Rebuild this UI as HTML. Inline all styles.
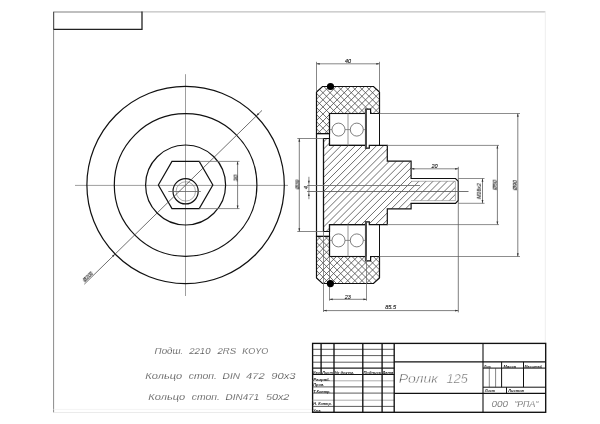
<!DOCTYPE html>
<html><head><meta charset="utf-8"><style>
html,body{margin:0;padding:0;background:#fff;}
svg{display:block;}
text{will-change:transform;}
text{font-family:"Liberation Sans",sans-serif;font-style:italic;}
</style></head><body>
<svg width="600" height="424" viewBox="0 0 600 424">
<defs>
<clipPath id="ctu"><path d="M316.50,133.60 L316.50,92.00 L322.50,86.50 L373.50,86.50 L379.50,92.00 L379.50,113.50 L370.60,113.50 L370.60,109.20 L365.50,109.20 L365.50,113.50 L329.50,113.50 L329.50,133.60 Z"/></clipPath>
<clipPath id="ctd"><path d="M316.50,236.40 L316.50,278.00 L322.50,283.50 L373.50,283.50 L379.50,278.00 L379.50,256.50 L370.60,256.50 L370.60,260.80 L365.50,260.80 L365.50,256.50 L329.50,256.50 L329.50,236.40 Z"/></clipPath>
<clipPath id="cax"><path d="M323.50,138.50 L329.50,138.50 L329.50,145.40 L365.50,145.40 L365.50,148.10 L369.30,148.10 L369.30,145.40 L387.30,145.40 L387.30,161.20 L411.10,161.20 L411.10,181.30 L455.30,181.30 L455.30,200.60 L411.10,200.60 L411.10,208.80 L387.30,208.80 L387.30,224.60 L369.30,224.60 L369.30,221.90 L365.50,221.90 L365.50,224.60 L329.50,224.60 L329.50,231.50 L323.50,231.50 Z"/></clipPath>
</defs>
<rect width="600" height="424" fill="#fff"/>
<line x1="142.00" y1="11.90" x2="545.40" y2="11.90" stroke="#b0b0b0" stroke-width="1.0" />
<line x1="53.60" y1="12.00" x2="142.00" y2="12.00" stroke="#808080" stroke-width="1.1" />
<line x1="53.60" y1="11.60" x2="53.60" y2="412.50" stroke="#8a8a8a" stroke-width="1.0" />
<line x1="545.30" y1="11.60" x2="545.30" y2="412.50" stroke="#eeeeee" stroke-width="1.0" />
<line x1="53.60" y1="412.50" x2="545.60" y2="412.50" stroke="#ebebeb" stroke-width="1.0" />
<line x1="53.60" y1="409.40" x2="312.60" y2="409.40" stroke="#f4f4f4" stroke-width="1.0" />
<line x1="53.60" y1="12.00" x2="53.60" y2="29.40" stroke="#555" stroke-width="1.1" />
<line x1="53.60" y1="29.40" x2="142.00" y2="29.40" stroke="#222" stroke-width="1.2" />
<line x1="142.00" y1="11.60" x2="142.00" y2="29.90" stroke="#222" stroke-width="1.3" />
<line x1="75.00" y1="185.40" x2="288.00" y2="185.40" stroke="#8c8c8c" stroke-width="0.85" />
<line x1="185.50" y1="74.20" x2="185.50" y2="296.00" stroke="#8c8c8c" stroke-width="0.85" />
<circle cx="185.6" cy="185.0" r="98.7" stroke="#111" stroke-width="1.2" fill="none"/>
<circle cx="185.6" cy="185.0" r="71.3" stroke="#111" stroke-width="1.2" fill="none"/>
<circle cx="185.6" cy="185.0" r="40.0" stroke="#111" stroke-width="1.2" fill="none"/>
<path d="M158.35,185.00 L171.97,161.40 L199.22,161.40 L212.85,185.00 L199.22,208.60 L171.97,208.60 Z" stroke="#111" stroke-width="1.2" fill="none" stroke-linejoin="miter"/>
<circle cx="185.6" cy="191.3" r="12.6" stroke="#111" stroke-width="1.2" fill="none"/>
<circle cx="185.8" cy="191.4" r="9.7" stroke="#777" stroke-width="0.6" fill="none"/>
<line x1="168.30" y1="191.50" x2="200.80" y2="191.50" stroke="#606060" stroke-width="0.8" />
<line x1="84.30" y1="284.20" x2="262.00" y2="110.40" stroke="#4a4a4a" stroke-width="0.8" />
<path d="M256.16,115.99 L257.93,112.93 L259.26,114.29 Z" fill="#333"/>
<path d="M115.04,254.01 L113.27,257.07 L111.94,255.71 Z" fill="#333"/>
<text x="89.40" y="278.20" font-size="4.8" text-anchor="middle" fill="#0a0a0a" transform="rotate(-44.364311888188375 89.40 278.20)" stroke="#222" stroke-width="0.12">Ø200</text>
<line x1="199.22" y1="161.40" x2="239.50" y2="161.40" stroke="#707070" stroke-width="0.8" />
<line x1="199.22" y1="208.60" x2="239.50" y2="208.60" stroke="#707070" stroke-width="0.8" />
<line x1="237.60" y1="161.40" x2="237.60" y2="208.60" stroke="#606060" stroke-width="0.8" />
<path d="M237.60,161.40 L238.50,164.60 L236.70,164.60 Z" fill="#333"/>
<path d="M237.60,208.60 L236.70,205.40 L238.50,205.40 Z" fill="#333"/>
<text x="237.60" y="178.00" font-size="6.0" text-anchor="middle" fill="#0a0a0a" transform="rotate(-90 237.60 178.00)" stroke="#222" stroke-width="0.12">30</text>
<g clip-path="url(#ctu)" stroke="#4a4a4a" stroke-width="0.8">
<line x1="267.89" y1="133.60" x2="314.99" y2="86.50"/>
<line x1="274.98" y1="133.60" x2="322.08" y2="86.50"/>
<line x1="282.07" y1="133.60" x2="329.17" y2="86.50"/>
<line x1="289.16" y1="133.60" x2="336.26" y2="86.50"/>
<line x1="296.25" y1="133.60" x2="343.35" y2="86.50"/>
<line x1="303.34" y1="133.60" x2="350.44" y2="86.50"/>
<line x1="310.43" y1="133.60" x2="357.53" y2="86.50"/>
<line x1="317.52" y1="133.60" x2="364.62" y2="86.50"/>
<line x1="324.61" y1="133.60" x2="371.71" y2="86.50"/>
<line x1="331.70" y1="133.60" x2="378.80" y2="86.50"/>
<line x1="338.79" y1="133.60" x2="385.89" y2="86.50"/>
<line x1="345.88" y1="133.60" x2="392.98" y2="86.50"/>
<line x1="352.97" y1="133.60" x2="400.07" y2="86.50"/>
<line x1="360.06" y1="133.60" x2="407.16" y2="86.50"/>
<line x1="367.15" y1="133.60" x2="414.25" y2="86.50"/>
<line x1="374.24" y1="133.60" x2="421.34" y2="86.50"/>
</g>
<g clip-path="url(#ctu)" stroke="#4a4a4a" stroke-width="0.8">
<line x1="267.10" y1="86.50" x2="314.20" y2="133.60"/>
<line x1="274.19" y1="86.50" x2="321.29" y2="133.60"/>
<line x1="281.28" y1="86.50" x2="328.38" y2="133.60"/>
<line x1="288.37" y1="86.50" x2="335.47" y2="133.60"/>
<line x1="295.46" y1="86.50" x2="342.56" y2="133.60"/>
<line x1="302.55" y1="86.50" x2="349.65" y2="133.60"/>
<line x1="309.64" y1="86.50" x2="356.74" y2="133.60"/>
<line x1="316.73" y1="86.50" x2="363.83" y2="133.60"/>
<line x1="323.82" y1="86.50" x2="370.92" y2="133.60"/>
<line x1="330.91" y1="86.50" x2="378.01" y2="133.60"/>
<line x1="338.00" y1="86.50" x2="385.10" y2="133.60"/>
<line x1="345.09" y1="86.50" x2="392.19" y2="133.60"/>
<line x1="352.18" y1="86.50" x2="399.28" y2="133.60"/>
<line x1="359.27" y1="86.50" x2="406.37" y2="133.60"/>
<line x1="366.36" y1="86.50" x2="413.46" y2="133.60"/>
<line x1="373.45" y1="86.50" x2="420.55" y2="133.60"/>
</g>
<g clip-path="url(#ctd)" stroke="#4a4a4a" stroke-width="0.8">
<line x1="266.88" y1="283.50" x2="313.98" y2="236.40"/>
<line x1="273.97" y1="283.50" x2="321.07" y2="236.40"/>
<line x1="281.06" y1="283.50" x2="328.16" y2="236.40"/>
<line x1="288.15" y1="283.50" x2="335.25" y2="236.40"/>
<line x1="295.24" y1="283.50" x2="342.34" y2="236.40"/>
<line x1="302.33" y1="283.50" x2="349.43" y2="236.40"/>
<line x1="309.42" y1="283.50" x2="356.52" y2="236.40"/>
<line x1="316.51" y1="283.50" x2="363.61" y2="236.40"/>
<line x1="323.60" y1="283.50" x2="370.70" y2="236.40"/>
<line x1="330.69" y1="283.50" x2="377.79" y2="236.40"/>
<line x1="337.78" y1="283.50" x2="384.88" y2="236.40"/>
<line x1="344.87" y1="283.50" x2="391.97" y2="236.40"/>
<line x1="351.96" y1="283.50" x2="399.06" y2="236.40"/>
<line x1="359.05" y1="283.50" x2="406.15" y2="236.40"/>
<line x1="366.14" y1="283.50" x2="413.24" y2="236.40"/>
<line x1="373.23" y1="283.50" x2="420.33" y2="236.40"/>
</g>
<g clip-path="url(#ctd)" stroke="#4a4a4a" stroke-width="0.8">
<line x1="268.11" y1="236.40" x2="315.21" y2="283.50"/>
<line x1="275.20" y1="236.40" x2="322.30" y2="283.50"/>
<line x1="282.29" y1="236.40" x2="329.39" y2="283.50"/>
<line x1="289.38" y1="236.40" x2="336.48" y2="283.50"/>
<line x1="296.47" y1="236.40" x2="343.57" y2="283.50"/>
<line x1="303.56" y1="236.40" x2="350.66" y2="283.50"/>
<line x1="310.65" y1="236.40" x2="357.75" y2="283.50"/>
<line x1="317.74" y1="236.40" x2="364.84" y2="283.50"/>
<line x1="324.83" y1="236.40" x2="371.93" y2="283.50"/>
<line x1="331.92" y1="236.40" x2="379.02" y2="283.50"/>
<line x1="339.01" y1="236.40" x2="386.11" y2="283.50"/>
<line x1="346.10" y1="236.40" x2="393.20" y2="283.50"/>
<line x1="353.19" y1="236.40" x2="400.29" y2="283.50"/>
<line x1="360.28" y1="236.40" x2="407.38" y2="283.50"/>
<line x1="367.37" y1="236.40" x2="414.47" y2="283.50"/>
<line x1="374.46" y1="236.40" x2="421.56" y2="283.50"/>
</g>
<path d="M316.50,133.60 L316.50,92.00 L322.50,86.50 L373.50,86.50 L379.50,92.00 L379.50,113.50 L370.60,113.50 L370.60,109.20 L365.50,109.20 L365.50,113.50 L329.50,113.50 L329.50,133.60 Z" stroke="#111" stroke-width="1.2" fill="none" stroke-linejoin="miter"/>
<path d="M316.50,236.40 L316.50,278.00 L322.50,283.50 L373.50,283.50 L379.50,278.00 L379.50,256.50 L370.60,256.50 L370.60,260.80 L365.50,260.80 L365.50,256.50 L329.50,256.50 L329.50,236.40 Z" stroke="#111" stroke-width="1.2" fill="none" stroke-linejoin="miter"/>
<g clip-path="url(#cax)" stroke="#4a4a4a" stroke-width="0.8">
<line x1="226.86" y1="231.50" x2="319.86" y2="138.50"/>
<line x1="233.95" y1="231.50" x2="326.95" y2="138.50"/>
<line x1="241.04" y1="231.50" x2="334.04" y2="138.50"/>
<line x1="248.13" y1="231.50" x2="341.13" y2="138.50"/>
<line x1="255.22" y1="231.50" x2="348.22" y2="138.50"/>
<line x1="262.31" y1="231.50" x2="355.31" y2="138.50"/>
<line x1="269.40" y1="231.50" x2="362.40" y2="138.50"/>
<line x1="276.49" y1="231.50" x2="369.49" y2="138.50"/>
<line x1="283.58" y1="231.50" x2="376.58" y2="138.50"/>
<line x1="290.67" y1="231.50" x2="383.67" y2="138.50"/>
<line x1="297.76" y1="231.50" x2="390.76" y2="138.50"/>
<line x1="304.85" y1="231.50" x2="397.85" y2="138.50"/>
<line x1="311.94" y1="231.50" x2="404.94" y2="138.50"/>
<line x1="319.03" y1="231.50" x2="412.03" y2="138.50"/>
<line x1="326.12" y1="231.50" x2="419.12" y2="138.50"/>
<line x1="333.21" y1="231.50" x2="426.21" y2="138.50"/>
<line x1="340.30" y1="231.50" x2="433.30" y2="138.50"/>
<line x1="347.39" y1="231.50" x2="440.39" y2="138.50"/>
<line x1="354.48" y1="231.50" x2="447.48" y2="138.50"/>
<line x1="361.57" y1="231.50" x2="454.57" y2="138.50"/>
<line x1="368.66" y1="231.50" x2="461.66" y2="138.50"/>
<line x1="375.75" y1="231.50" x2="468.75" y2="138.50"/>
<line x1="382.84" y1="231.50" x2="475.84" y2="138.50"/>
<line x1="389.93" y1="231.50" x2="482.93" y2="138.50"/>
<line x1="397.02" y1="231.50" x2="490.02" y2="138.50"/>
<line x1="404.11" y1="231.50" x2="497.11" y2="138.50"/>
<line x1="411.20" y1="231.50" x2="504.20" y2="138.50"/>
<line x1="418.29" y1="231.50" x2="511.29" y2="138.50"/>
<line x1="425.38" y1="231.50" x2="518.38" y2="138.50"/>
<line x1="432.47" y1="231.50" x2="525.47" y2="138.50"/>
<line x1="439.56" y1="231.50" x2="532.56" y2="138.50"/>
<line x1="446.65" y1="231.50" x2="539.65" y2="138.50"/>
<line x1="453.74" y1="231.50" x2="546.74" y2="138.50"/>
</g>
<path d="M323.50,138.50 L329.50,138.50 L329.50,145.40 L365.50,145.40 L365.50,148.10 L369.30,148.10 L369.30,145.40 L387.30,145.40 L387.30,161.20 L411.10,161.20 L411.10,178.50 L455.50,178.50 L458.30,181.30 L458.30,200.50 L455.50,203.30 L411.10,203.30 L411.10,208.80 L387.30,208.80 L387.30,224.60 L369.30,224.60 L369.30,221.90 L365.50,221.90 L365.50,224.60 L329.50,224.60 L329.50,231.50 L323.50,231.50 Z" stroke="#111" stroke-width="1.2" fill="none" stroke-linejoin="miter"/>
<line x1="411.10" y1="181.30" x2="455.40" y2="181.30" stroke="#777" stroke-width="0.55" />
<line x1="411.10" y1="200.60" x2="455.40" y2="200.60" stroke="#777" stroke-width="0.55" />
<line x1="455.40" y1="181.30" x2="455.40" y2="200.60" stroke="#777" stroke-width="0.55" />
<line x1="316.50" y1="133.60" x2="316.50" y2="236.40" stroke="#111" stroke-width="1.2" />
<line x1="323.50" y1="138.50" x2="323.50" y2="231.50" stroke="#111" stroke-width="1.1" />
<line x1="316.50" y1="133.60" x2="329.50" y2="133.60" stroke="#111" stroke-width="1.0" />
<line x1="316.50" y1="236.40" x2="329.50" y2="236.40" stroke="#111" stroke-width="1.0" />
<line x1="329.50" y1="133.60" x2="329.50" y2="138.50" stroke="#111" stroke-width="1.0" />
<line x1="329.50" y1="236.40" x2="329.50" y2="231.50" stroke="#111" stroke-width="1.0" />
<rect x="329.5" y="113.5" width="36.00" height="31.90" fill="none" stroke="#111" stroke-width="1.1"/>
<line x1="348.00" y1="113.50" x2="348.00" y2="145.40" stroke="#8a8a8a" stroke-width="0.9" />
<circle cx="338.5" cy="129.6" r="6.5" stroke="#606060" stroke-width="0.8" fill="none"/>
<circle cx="356.8" cy="129.6" r="6.5" stroke="#606060" stroke-width="0.8" fill="none"/>
<line x1="329.50" y1="129.60" x2="332.00" y2="129.60" stroke="#666" stroke-width="0.7" />
<line x1="345.00" y1="129.60" x2="350.30" y2="129.60" stroke="#666" stroke-width="0.7" />
<line x1="363.30" y1="129.60" x2="365.50" y2="129.60" stroke="#666" stroke-width="0.7" />
<rect x="329.5" y="224.6" width="36.00" height="31.90" fill="none" stroke="#111" stroke-width="1.1"/>
<line x1="348.00" y1="224.60" x2="348.00" y2="256.50" stroke="#8a8a8a" stroke-width="0.9" />
<circle cx="338.5" cy="240.4" r="6.5" stroke="#606060" stroke-width="0.8" fill="none"/>
<circle cx="356.8" cy="240.4" r="6.5" stroke="#606060" stroke-width="0.8" fill="none"/>
<line x1="329.50" y1="240.40" x2="332.00" y2="240.40" stroke="#666" stroke-width="0.7" />
<line x1="345.00" y1="240.40" x2="350.30" y2="240.40" stroke="#666" stroke-width="0.7" />
<line x1="363.30" y1="240.40" x2="365.50" y2="240.40" stroke="#666" stroke-width="0.7" />
<line x1="366.00" y1="109.20" x2="366.00" y2="148.10" stroke="#4a4a4a" stroke-width="2.0" />
<line x1="366.00" y1="260.80" x2="366.00" y2="221.90" stroke="#4a4a4a" stroke-width="2.0" />
<line x1="379.50" y1="113.50" x2="379.50" y2="145.40" stroke="#111" stroke-width="1.0" />
<line x1="379.50" y1="256.50" x2="379.50" y2="224.60" stroke="#111" stroke-width="1.0" />
<line x1="307.20" y1="185.50" x2="420.00" y2="185.50" stroke="#6a6a6a" stroke-width="0.85" />
<line x1="307.20" y1="191.50" x2="468.50" y2="191.50" stroke="#5a5a5a" stroke-width="0.85" />
<line x1="316.50" y1="61.80" x2="316.50" y2="91.50" stroke="#686868" stroke-width="0.8" />
<line x1="379.50" y1="61.80" x2="379.50" y2="91.50" stroke="#686868" stroke-width="0.8" />
<line x1="316.50" y1="63.80" x2="379.50" y2="63.80" stroke="#686868" stroke-width="0.8" />
<path d="M316.50,63.80 L319.70,62.90 L319.70,64.70 Z" fill="#333"/>
<path d="M379.50,63.80 L376.30,64.70 L376.30,62.90 Z" fill="#333"/>
<text x="348.00" y="62.60" font-size="5.5" text-anchor="middle" fill="#0a0a0a" stroke="#222" stroke-width="0.12">40</text>
<line x1="379.50" y1="113.50" x2="520.00" y2="113.50" stroke="#707070" stroke-width="0.8" />
<line x1="379.50" y1="256.50" x2="520.00" y2="256.50" stroke="#707070" stroke-width="0.8" />
<line x1="517.80" y1="113.50" x2="517.80" y2="256.50" stroke="#606060" stroke-width="0.8" />
<path d="M517.80,113.50 L518.70,116.70 L516.90,116.70 Z" fill="#333"/>
<path d="M517.80,256.50 L516.90,253.30 L518.70,253.30 Z" fill="#333"/>
<text x="517.00" y="185.20" font-size="5.3" text-anchor="middle" fill="#0a0a0a" transform="rotate(-90 517.00 185.20)" stroke="#222" stroke-width="0.12">Ø90</text>
<line x1="387.30" y1="145.40" x2="499.00" y2="145.40" stroke="#707070" stroke-width="0.8" />
<line x1="387.30" y1="224.60" x2="499.00" y2="224.60" stroke="#707070" stroke-width="0.8" />
<line x1="497.40" y1="145.40" x2="497.40" y2="224.60" stroke="#606060" stroke-width="0.8" />
<path d="M497.40,145.40 L498.30,148.60 L496.50,148.60 Z" fill="#333"/>
<path d="M497.40,224.60 L496.50,221.40 L498.30,221.40 Z" fill="#333"/>
<text x="496.70" y="185.00" font-size="5.3" text-anchor="middle" fill="#0a0a0a" transform="rotate(-90 496.70 185.00)" stroke="#222" stroke-width="0.12">Ø50</text>
<line x1="458.30" y1="178.50" x2="484.50" y2="178.50" stroke="#707070" stroke-width="0.8" />
<line x1="458.30" y1="203.30" x2="484.50" y2="203.30" stroke="#707070" stroke-width="0.8" />
<line x1="482.50" y1="178.50" x2="482.50" y2="203.30" stroke="#606060" stroke-width="0.8" />
<path d="M482.50,178.50 L483.40,181.70 L481.60,181.70 Z" fill="#333"/>
<path d="M482.50,203.30 L481.60,200.10 L483.40,200.10 Z" fill="#333"/>
<text x="481.00" y="191.20" font-size="5.2" text-anchor="middle" fill="#0a0a0a" transform="rotate(-90 481.00 191.20)" stroke="#222" stroke-width="0.12">M16x2</text>
<line x1="458.30" y1="166.80" x2="458.30" y2="312.40" stroke="#606060" stroke-width="0.8" />
<line x1="411.10" y1="168.80" x2="458.30" y2="168.80" stroke="#686868" stroke-width="0.8" />
<path d="M411.10,168.80 L414.30,167.90 L414.30,169.70 Z" fill="#333"/>
<path d="M458.30,168.80 L455.10,169.70 L455.10,167.90 Z" fill="#333"/>
<text x="434.60" y="167.60" font-size="5.5" text-anchor="middle" fill="#0a0a0a" stroke="#222" stroke-width="0.12">20</text>
<line x1="329.50" y1="256.50" x2="329.50" y2="300.70" stroke="#707070" stroke-width="0.8" />
<line x1="366.50" y1="256.50" x2="366.50" y2="300.70" stroke="#707070" stroke-width="0.8" />
<line x1="329.50" y1="299.30" x2="366.60" y2="299.30" stroke="#606060" stroke-width="0.8" />
<path d="M329.50,299.30 L332.70,298.40 L332.70,300.20 Z" fill="#333"/>
<path d="M366.60,299.30 L363.40,300.20 L363.40,298.40 Z" fill="#333"/>
<text x="347.70" y="299.00" font-size="5.5" text-anchor="middle" fill="#0a0a0a" stroke="#222" stroke-width="0.12">23</text>
<line x1="323.50" y1="231.50" x2="323.50" y2="312.00" stroke="#707070" stroke-width="0.8" />
<line x1="323.50" y1="310.60" x2="458.30" y2="310.60" stroke="#606060" stroke-width="0.8" />
<path d="M323.50,310.60 L326.70,309.70 L326.70,311.50 Z" fill="#333"/>
<path d="M458.30,310.60 L455.10,311.50 L455.10,309.70 Z" fill="#333"/>
<text x="390.60" y="309.10" font-size="5.6" text-anchor="middle" fill="#0a0a0a" stroke="#222" stroke-width="0.12">85.5</text>
<line x1="297.30" y1="138.50" x2="323.50" y2="138.50" stroke="#686868" stroke-width="0.8" />
<line x1="297.30" y1="231.50" x2="323.50" y2="231.50" stroke="#686868" stroke-width="0.8" />
<line x1="299.30" y1="138.50" x2="299.30" y2="231.50" stroke="#606060" stroke-width="0.8" />
<path d="M299.30,138.50 L300.20,141.70 L298.40,141.70 Z" fill="#333"/>
<path d="M299.30,231.50 L298.40,228.30 L300.20,228.30 Z" fill="#333"/>
<text x="298.90" y="184.50" font-size="5.0" text-anchor="middle" fill="#0a0a0a" transform="rotate(-90 298.90 184.50)" stroke="#222" stroke-width="0.12">Ø39</text>
<line x1="308.90" y1="176.80" x2="308.90" y2="199.20" stroke="#686868" stroke-width="0.8" />
<path d="M308.90,183.60 L308.00,180.80 L309.80,180.80 Z" fill="#333"/>
<path d="M308.90,193.30 L309.80,196.10 L308.00,196.10 Z" fill="#333"/>
<text x="307.50" y="187.60" font-size="5.5" text-anchor="middle" fill="#0a0a0a" transform="rotate(-90 307.50 187.60)" stroke="#222" stroke-width="0.12">4</text>
<circle cx="330.5" cy="86.5" r="3.6" stroke="#000" stroke-width="0" fill="#000"/>
<circle cx="330.4" cy="283.6" r="3.6" stroke="#000" stroke-width="0" fill="#000"/>
<text x="154.64" y="354.00" font-size="9.6" fill="#222" textLength="28.63" lengthAdjust="spacingAndGlyphs" stroke="#fff" stroke-width="0.25">Подш.</text>
<text x="189.20" y="354.00" font-size="9.6" fill="#222" textLength="21.32" lengthAdjust="spacingAndGlyphs" stroke="#fff" stroke-width="0.25">2210</text>
<text x="217.50" y="354.00" font-size="9.6" fill="#222" textLength="18.57" lengthAdjust="spacingAndGlyphs" stroke="#fff" stroke-width="0.25">2RS</text>
<text x="242.16" y="354.00" font-size="9.6" fill="#222" textLength="26.09" lengthAdjust="spacingAndGlyphs" stroke="#fff" stroke-width="0.25">KOYO</text>
<text x="145.39" y="378.80" font-size="9.5" fill="#222" textLength="36.74" lengthAdjust="spacingAndGlyphs" stroke="#fff" stroke-width="0.25">Кольцо</text>
<text x="188.81" y="378.80" font-size="9.5" fill="#222" textLength="28.05" lengthAdjust="spacingAndGlyphs" stroke="#fff" stroke-width="0.25">стоп.</text>
<text x="222.62" y="378.80" font-size="9.5" fill="#222" textLength="17.36" lengthAdjust="spacingAndGlyphs" stroke="#fff" stroke-width="0.25">DIN</text>
<text x="246.06" y="378.80" font-size="9.5" fill="#222" textLength="18.65" lengthAdjust="spacingAndGlyphs" stroke="#fff" stroke-width="0.25">472</text>
<text x="271.38" y="378.80" font-size="9.5" fill="#222" textLength="24.19" lengthAdjust="spacingAndGlyphs" stroke="#fff" stroke-width="0.25">90x3</text>
<text x="148.39" y="399.70" font-size="9.5" fill="#222" textLength="36.74" lengthAdjust="spacingAndGlyphs" stroke="#fff" stroke-width="0.25">Кольцо</text>
<text x="191.81" y="399.70" font-size="9.5" fill="#222" textLength="28.05" lengthAdjust="spacingAndGlyphs" stroke="#fff" stroke-width="0.25">стоп.</text>
<text x="225.63" y="399.70" font-size="9.5" fill="#222" textLength="33.57" lengthAdjust="spacingAndGlyphs" stroke="#fff" stroke-width="0.25">DIN471</text>
<text x="265.93" y="399.70" font-size="9.5" fill="#222" textLength="23.47" lengthAdjust="spacingAndGlyphs" stroke="#fff" stroke-width="0.25">50x2</text>
<rect x="312.6" y="343.4" width="233.10" height="68.90" fill="none" stroke="#111" stroke-width="1.35"/>
<line x1="312.60" y1="349.30" x2="394.30" y2="349.30" stroke="#333" stroke-width="0.8" />
<line x1="312.60" y1="355.60" x2="394.30" y2="355.60" stroke="#333" stroke-width="0.8" />
<line x1="312.60" y1="362.20" x2="394.30" y2="362.20" stroke="#333" stroke-width="0.8" />
<line x1="312.60" y1="368.10" x2="394.30" y2="368.10" stroke="#222" stroke-width="1.1" />
<line x1="312.60" y1="374.50" x2="394.30" y2="374.50" stroke="#111" stroke-width="1.2" />
<line x1="312.60" y1="380.80" x2="394.30" y2="380.80" stroke="#999" stroke-width="0.8" />
<line x1="312.60" y1="386.90" x2="394.30" y2="386.90" stroke="#333" stroke-width="0.8" />
<line x1="312.60" y1="393.10" x2="394.30" y2="393.10" stroke="#333" stroke-width="0.8" />
<line x1="312.60" y1="400.20" x2="394.30" y2="400.20" stroke="#999" stroke-width="0.8" />
<line x1="312.60" y1="406.40" x2="394.30" y2="406.40" stroke="#333" stroke-width="0.8" />
<line x1="321.10" y1="343.40" x2="321.10" y2="374.40" stroke="#111" stroke-width="1.35" />
<line x1="334.00" y1="343.40" x2="334.00" y2="412.30" stroke="#111" stroke-width="1.35" />
<line x1="362.80" y1="343.40" x2="362.80" y2="412.30" stroke="#111" stroke-width="1.35" />
<line x1="382.10" y1="343.40" x2="382.10" y2="412.30" stroke="#111" stroke-width="1.35" />
<line x1="394.20" y1="343.40" x2="394.20" y2="412.30" stroke="#111" stroke-width="1.35" />
<line x1="394.30" y1="361.90" x2="545.70" y2="361.90" stroke="#111" stroke-width="1.1" />
<line x1="394.30" y1="393.40" x2="545.70" y2="393.40" stroke="#111" stroke-width="1.1" />
<line x1="483.00" y1="343.40" x2="483.00" y2="412.30" stroke="#111" stroke-width="1.1" />
<line x1="483.00" y1="368.10" x2="545.70" y2="368.10" stroke="#111" stroke-width="1.0" />
<line x1="483.00" y1="387.20" x2="545.70" y2="387.20" stroke="#111" stroke-width="1.0" />
<line x1="501.60" y1="361.90" x2="501.60" y2="387.20" stroke="#111" stroke-width="1.0" />
<line x1="523.50" y1="361.90" x2="523.50" y2="387.20" stroke="#111" stroke-width="1.0" />
<line x1="489.30" y1="368.10" x2="489.30" y2="387.20" stroke="#333" stroke-width="0.6" />
<line x1="495.60" y1="368.10" x2="495.60" y2="387.20" stroke="#333" stroke-width="0.6" />
<line x1="506.50" y1="387.20" x2="506.50" y2="393.40" stroke="#111" stroke-width="1.0" />
<text x="313.10" y="373.60" font-size="4.0" fill="#222" font-weight="bold" textLength="7.52" lengthAdjust="spacingAndGlyphs">Изм.</text>
<text x="322.30" y="373.60" font-size="4.0" fill="#222" font-weight="bold" textLength="10.51" lengthAdjust="spacingAndGlyphs">Лист</text>
<text x="334.80" y="373.60" font-size="4.0" fill="#222" font-weight="bold" textLength="19.26" lengthAdjust="spacingAndGlyphs">№ докум.</text>
<text x="363.40" y="373.60" font-size="4.0" fill="#222" font-weight="bold" textLength="17.82" lengthAdjust="spacingAndGlyphs">Подпись</text>
<text x="382.20" y="373.60" font-size="4.0" fill="#222" font-weight="bold" textLength="11.23" lengthAdjust="spacingAndGlyphs">Дата</text>
<text x="313.30" y="380.50" font-size="4.0" fill="#222" font-weight="bold" textLength="16.79" lengthAdjust="spacingAndGlyphs">Разраб.</text>
<text x="313.30" y="386.20" font-size="4.0" fill="#222" font-weight="bold" textLength="11.02" lengthAdjust="spacingAndGlyphs">Пров.</text>
<text x="313.30" y="392.60" font-size="4.0" fill="#222" font-weight="bold" textLength="17.30" lengthAdjust="spacingAndGlyphs">Т.Контр.</text>
<text x="313.30" y="405.40" font-size="4.0" fill="#222" font-weight="bold" textLength="18.54" lengthAdjust="spacingAndGlyphs">Н. Контр.</text>
<text x="313.30" y="411.80" font-size="4.0" fill="#222" font-weight="bold" textLength="8.03" lengthAdjust="spacingAndGlyphs">Утв.</text>
<text x="484.20" y="367.60" font-size="4.0" fill="#222" font-weight="bold" textLength="7.00" lengthAdjust="spacingAndGlyphs">Лит.</text>
<text x="503.50" y="367.60" font-size="4.0" fill="#222" font-weight="bold" textLength="12.46" lengthAdjust="spacingAndGlyphs">Масса</text>
<text x="524.60" y="367.60" font-size="4.0" fill="#222" font-weight="bold" textLength="17.30" lengthAdjust="spacingAndGlyphs">Масштаб</text>
<text x="485.10" y="392.40" font-size="4.0" fill="#222" font-weight="bold" textLength="9.99" lengthAdjust="spacingAndGlyphs">Лист</text>
<text x="508.30" y="392.40" font-size="4.0" fill="#222" font-weight="bold" textLength="15.66" lengthAdjust="spacingAndGlyphs">Листов</text>
<text x="398.86" y="382.70" font-size="12.1" fill="#333" textLength="39.02" lengthAdjust="spacingAndGlyphs" stroke="#fff" stroke-width="0.5">Ролик</text>
<text x="446.60" y="382.70" font-size="12.1" fill="#333" textLength="21.13" lengthAdjust="spacingAndGlyphs" stroke="#fff" stroke-width="0.5">125</text>
<text x="491.56" y="406.50" font-size="8.5" fill="#2a2a2a" textLength="16.51" lengthAdjust="spacingAndGlyphs" stroke="#fff" stroke-width="0.25">000</text>
<text x="514.23" y="406.50" font-size="8.5" fill="#2a2a2a" textLength="24.06" lengthAdjust="spacingAndGlyphs" stroke="#fff" stroke-width="0.25">"РПА"</text>
</svg></body></html>
